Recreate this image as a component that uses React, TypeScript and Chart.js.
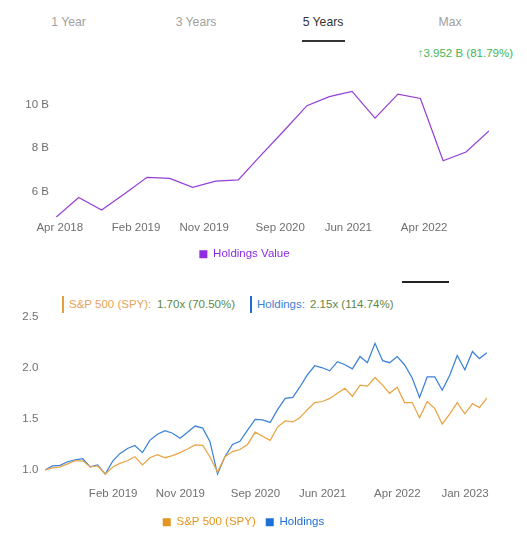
import React, { useEffect, useRef } from "react";
import { Chart, registerables } from "chart.js";
Chart.register(...registerables);

const FONT = 'Arial, "Liberation Sans", Helvetica, sans-serif';

// ---------- Top chart: holdings value (billions) ----------
const holdingsDates = [
  "2018-03-31", "2018-06-30", "2018-09-30", "2018-12-31",
  "2019-03-31", "2019-06-30", "2019-09-30", "2019-12-31",
  "2020-03-31", "2020-06-30", "2020-09-30", "2020-12-31",
  "2021-03-31", "2021-06-30", "2021-09-30", "2021-12-31",
  "2022-03-31", "2022-06-30", "2022-09-30", "2022-12-31",
];
const holdingsValueB = [
  4.832, 5.74, 5.16, 5.91, 6.66, 6.61, 6.2, 6.49, 6.54, 7.68,
  8.79, 9.94, 10.35, 10.59, 9.37, 10.47, 10.27, 7.42, 7.82, 8.784,
];
const topTickDates = ["2018-04-15", "2019-02-15", "2019-11-15", "2020-09-15", "2021-06-15", "2022-04-15"];
const topTickLabels = ["Apr 2018", "Feb 2019", "Nov 2019", "Sep 2020", "Jun 2021", "Apr 2022"];
const topYTicks = [6, 8, 10];

// ---------- Bottom chart: growth of 1 ----------
const perfMonths = [
  "2018-04", "2018-05", "2018-06", "2018-07", "2018-08", "2018-09", "2018-10", "2018-11", "2018-12",
  "2019-01", "2019-02", "2019-03", "2019-04", "2019-05", "2019-06", "2019-07", "2019-08", "2019-09",
  "2019-10", "2019-11", "2019-12", "2020-01", "2020-02", "2020-03", "2020-04", "2020-05", "2020-06",
  "2020-07", "2020-08", "2020-09", "2020-10", "2020-11", "2020-12", "2021-01", "2021-02", "2021-03",
  "2021-04", "2021-05", "2021-06", "2021-07", "2021-08", "2021-09", "2021-10", "2021-11", "2021-12",
  "2022-01", "2022-02", "2022-03", "2022-04", "2022-05", "2022-06", "2022-07", "2022-08", "2022-09",
  "2022-10", "2022-11", "2022-12", "2023-01", "2023-02", "2023-03",
];
const spyGrowth = [
  1.0, 1.02, 1.03, 1.06, 1.09, 1.09, 1.03, 1.04, 0.96,
  1.03, 1.065, 1.09, 1.13, 1.05, 1.12, 1.15, 1.12, 1.14,
  1.17, 1.205, 1.245, 1.24, 1.13, 0.98, 1.13, 1.18, 1.2,
  1.25, 1.37, 1.33, 1.29, 1.42, 1.48, 1.47, 1.51, 1.59,
  1.66, 1.67, 1.7, 1.75, 1.8, 1.72, 1.83, 1.82, 1.905,
  1.83, 1.75, 1.81, 1.66, 1.66, 1.51, 1.67, 1.6, 1.45,
  1.55, 1.66, 1.55, 1.65, 1.61, 1.705,
];
const holdingsGrowth = [
  1.0, 1.04, 1.045, 1.08, 1.1, 1.11, 1.03, 1.05, 0.96,
  1.09, 1.16, 1.21, 1.24, 1.17, 1.29, 1.35, 1.385, 1.36,
  1.31, 1.37, 1.43, 1.41, 1.28, 0.96, 1.13, 1.25, 1.28,
  1.39, 1.495, 1.49, 1.465, 1.59, 1.7, 1.71, 1.81, 1.93,
  2.02, 2.0, 1.97, 2.06, 2.03, 1.99, 2.11, 2.05, 2.24,
  2.07, 2.05, 2.11, 2.03, 1.9, 1.71, 1.91, 1.91, 1.78,
  1.93, 2.12, 1.98, 2.16, 2.09, 2.147,
];
const bottomTickDates = ["2019-02-01", "2019-11-01", "2020-09-01", "2021-06-01", "2022-04-01", "2023-01-01"];
const bottomTickLabels = ["Feb 2019", "Nov 2019", "Sep 2020", "Jun 2021", "Apr 2022", "Jan 2023"];
const bottomYTicks = [1.0, 1.5, 2.0, 2.5];

const PURPLE_LINE = "#9440d8";
const PURPLE = "#8e2de2";
const ORANGE = "#e9a445";
const BLUE = "#3b82d8";
const AXIS_GREY = "#6f6f6f";

const dayNum = (s: string) => {
  const [y, m, d] = s.split("-").map(Number);
  return Date.UTC(y, m - 1, d) / 86400000;
};
const monthEnd = (s: string) => {
  const [y, m] = s.split("-").map(Number);
  return Date.UTC(y, m, 0) / 86400000;
};

const legendLabels = (fontSize: number) => ({
  boxWidth: 8,
  boxHeight: 8,
  padding: 10,
  font: { size: fontSize, family: FONT },
  generateLabels: (chart: any) => {
    const items = (Chart as any).defaults.plugins.legend.labels.generateLabels(chart);
    items.forEach((it: any) => {
      const c = chart.data.datasets[it.datasetIndex].legendColor;
      it.fillStyle = c;
      it.strokeStyle = c;
      it.fontColor = c;
      it.lineWidth = 0;
    });
    return items;
  },
});

function TopChart() {
  const ref = useRef<HTMLCanvasElement>(null);
  useEffect(() => {
    const xs = holdingsDates.map(dayNum);
    const tickXs = topTickDates.map(dayNum);
    const chart = new Chart(ref.current!, {
      type: "line",
      data: {
        datasets: [
          {
            label: "Holdings Value",
            data: holdingsValueB.map((v, i) => ({ x: xs[i], y: v })),
            borderColor: PURPLE_LINE,
            backgroundColor: PURPLE,
            borderWidth: 1.25,
            pointRadius: 0,
            tension: 0,
            legendColor: PURPLE,
          } as any,
        ],
      },
      options: {
        responsive: false,
        animation: false,
        events: [],
        layout: { padding: { top: 20.5, right: 38, left: 0, bottom: 0 } },
        plugins: {
          tooltip: { enabled: false },
          legend: { position: "bottom", labels: legendLabels(11.5) as any },
        },
        scales: {
          x: {
            type: "linear",
            min: xs[0],
            max: xs[xs.length - 1],
            grid: { display: false, drawTicks: false },
            border: { display: false },
            ticks: {
              autoSkip: false,
              maxRotation: 0,
              padding: 3.5,
              color: AXIS_GREY,
              font: { size: 11.5, family: FONT },
              callback: (v: any) => {
                const i = tickXs.indexOf(Number(v));
                return i >= 0 ? topTickLabels[i] : "";
              },
            },
            afterBuildTicks: (s: any) => {
              s.ticks = tickXs.map((v) => ({ value: v }));
            },
            afterFit: (s: any) => {
              s.height = 21.2;
            },
          },
          y: {
            min: 4.832,
            max: 11,
            grid: { display: false, drawTicks: false },
            border: { display: false },
            ticks: {
              padding: 7,
              color: AXIS_GREY,
              font: { size: 11.5, family: FONT },
              callback: (v: any) => `${v} B`,
            },
            afterBuildTicks: (s: any) => {
              s.ticks = topYTicks.map((v) => ({ value: v }));
            },
            afterFit: (s: any) => {
              s.width = 56;
            },
          },
        },
      } as any,
    });
    return () => chart.destroy();
  }, []);
  return (
    <canvas
      ref={ref}
      width={527}
      height={208}
      style={{ position: "absolute", left: 0, top: 62, display: "block" }}
    />
  );
}

function BottomChart() {
  const ref = useRef<HTMLCanvasElement>(null);
  useEffect(() => {
    const xs = perfMonths.map(monthEnd);
    const tickXs = bottomTickDates.map(dayNum);
    const chart = new Chart(ref.current!, {
      type: "line",
      data: {
        datasets: [
          {
            label: "S&P 500 (SPY)",
            data: spyGrowth.map((v, i) => ({ x: xs[i], y: v })),
            borderColor: ORANGE,
            backgroundColor: ORANGE,
            borderWidth: 1.25,
            pointRadius: 0,
            tension: 0,
            legendColor: "#e3951f",
          } as any,
          {
            label: "Holdings",
            data: holdingsGrowth.map((v, i) => ({ x: xs[i], y: v })),
            borderColor: BLUE,
            backgroundColor: BLUE,
            borderWidth: 1.25,
            pointRadius: 0,
            tension: 0,
            legendColor: "#1f6fd6",
          } as any,
        ],
      },
      options: {
        responsive: false,
        animation: false,
        events: [],
        layout: { padding: { top: 26.7, right: 40, left: 0, bottom: 0 } },
        plugins: {
          tooltip: { enabled: false },
          legend: { position: "bottom", labels: legendLabels(11.5) as any },
        },
        scales: {
          x: {
            type: "linear",
            min: xs[0],
            max: xs[xs.length - 1],
            grid: { display: false, drawTicks: false },
            border: { display: false },
            ticks: {
              autoSkip: false,
              maxRotation: 0,
              padding: 7.2,
              color: AXIS_GREY,
              font: { size: 11.5, family: FONT },
              callback: (v: any) => {
                const i = tickXs.indexOf(Number(v));
                return i >= 0 ? bottomTickLabels[i] : "";
              },
            },
            afterBuildTicks: (s: any) => {
              s.ticks = tickXs.map((v) => ({ value: v }));
            },
            afterFit: (s: any) => {
              s.height = 26.3;
            },
          },
          y: {
            min: 0.9,
            max: 2.5,
            grid: { display: false, drawTicks: false },
            border: { display: false },
            ticks: {
              padding: 6.7,
              color: AXIS_GREY,
              font: { size: 11.5, family: FONT },
              callback: (v: any) => Number(v).toFixed(1),
            },
            afterBuildTicks: (s: any) => {
              s.ticks = bottomYTicks.map((v) => ({ value: v }));
            },
            afterFit: (s: any) => {
              s.width = 45;
            },
          },
        },
      } as any,
    });
    return () => chart.destroy();
  }, []);
  return (
    <canvas
      ref={ref}
      width={527}
      height={248}
      style={{ position: "absolute", left: 0, top: 290, display: "block" }}
    />
  );
}

const tabs = [
  { label: "1 Year", center: 68.5, active: false },
  { label: "3 Years", center: 196, active: false },
  { label: "5 Years", center: 323, active: true },
  { label: "Max", center: 450, active: false },
];

export default function App() {
  const abs = (o: any) => ({ position: "absolute" as const, whiteSpace: "nowrap" as const, ...o });
  return (
    <div
      style={{
        position: "absolute",
        left: 0,
        top: 0,
        width: 527,
        height: 534,
        overflow: "hidden",
        background: "#ffffff",
        fontFamily: FONT,
      }}
    >
      {tabs.map((t) => (
        <div
          key={t.label}
          style={abs({
            left: t.center - 50,
            width: 100,
            top: 13.5,
            lineHeight: "16px",
            fontSize: 12.2,
            textAlign: "center",
            color: t.active ? "#333333" : "#a0a0a0",
          })}
        >
          {t.label}
        </div>
      ))}
      <div style={abs({ left: 302, top: 39.5, width: 43, height: 2, background: "#333333" })} />
      <div
        style={abs({
          right: 14,
          top: 46,
          lineHeight: "14px",
          fontSize: 11.5,
          color: "#45b653",
        })}
      >
        ↑3.952 B (81.79%)
      </div>

      <TopChart />

      <div style={abs({ left: 402, top: 281, width: 47, height: 2, background: "#222222" })} />
      <div style={abs({ left: 62, top: 296, width: 2, height: 17, background: "#e0a23c" })} />
      <div style={abs({ left: 69, top: 297, lineHeight: "15px", fontSize: 11.5, color: "#e6a35a" })}>
        S&amp;P 500 (SPY):
      </div>
      <div style={abs({ left: 157, top: 297, lineHeight: "15px", fontSize: 11.5, color: "#5d8844" })}>
        1.70x (70.50%)
      </div>
      <div style={abs({ left: 249.5, top: 296, width: 2, height: 17, background: "#1f6fd0" })} />
      <div style={abs({ left: 257, top: 297, lineHeight: "15px", fontSize: 11.5, color: "#3d7fd1" })}>
        Holdings:
      </div>
      <div style={abs({ left: 310, top: 297, lineHeight: "15px", fontSize: 11.5, color: "#5d8844" })}>
        2.15x (114.74%)
      </div>

      <BottomChart />
    </div>
  );
}
